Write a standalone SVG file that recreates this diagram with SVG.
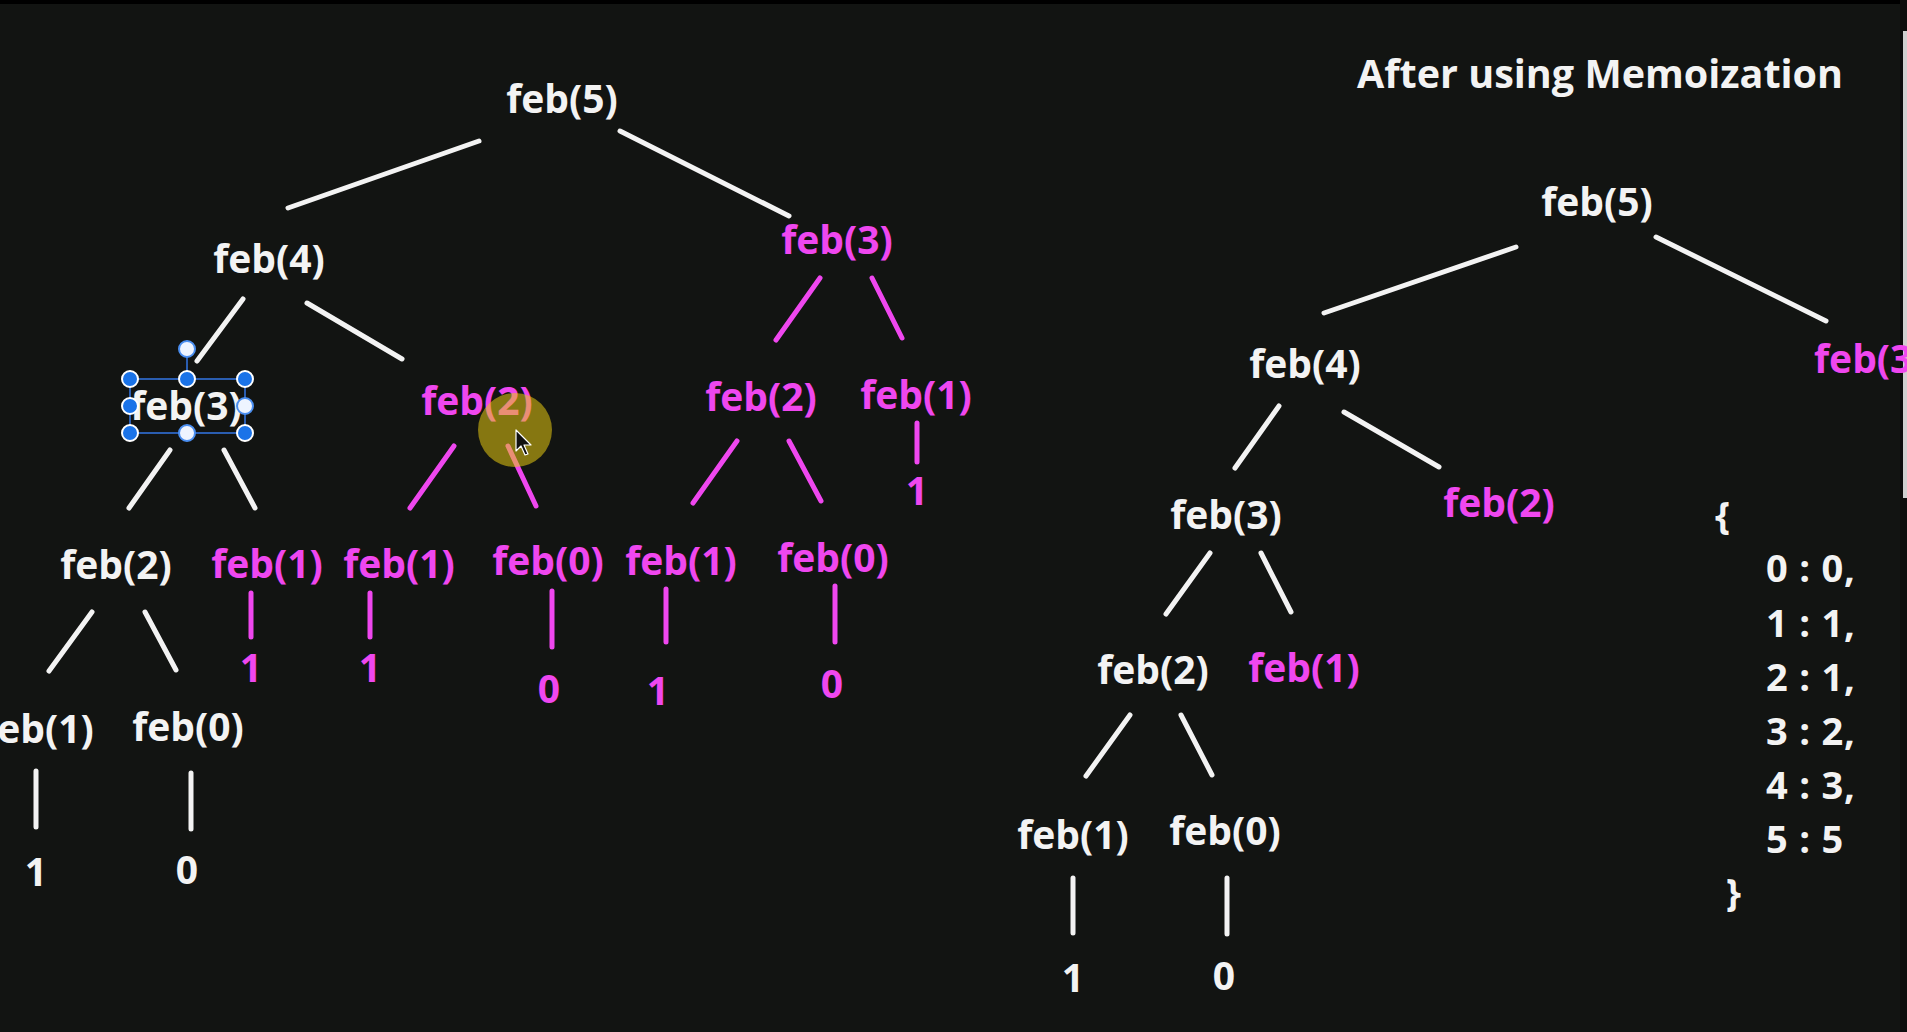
<svg xmlns="http://www.w3.org/2000/svg" width="1907" height="1032" viewBox="0 0 1907 1032">
<style>
text{font-family:"Open Sans","Liberation Sans",sans-serif;font-weight:bold;font-size:39px;text-anchor:middle}
.w{fill:#f3f3f3}
.m{fill:#ef47ef}
.title{font-size:39.5px}
.memo{font-size:38px;text-anchor:start;fill:#f3f3f3;letter-spacing:0.8px}
.cw line{stroke:#f3f3f3;stroke-width:5;stroke-linecap:round}
.cm line{stroke:#ef47ef;stroke-width:5;stroke-linecap:round}
.h{fill:#1a73e8;stroke:#ffffff;stroke-width:2}
.hw{fill:#eef4ff;stroke:#4a8ef0;stroke-width:2}
</style>
<rect x="0" y="0" width="1907" height="1032" fill="#121412"/>
<rect x="0" y="0" width="1907" height="4" fill="#000"/>
<rect x="1900" y="0" width="7" height="1032" fill="#0c0d0c"/>
<rect x="1903" y="31" width="4" height="467" fill="#cfcfcf"/>

<g id="connectors">
 <g class="cw">
  <line x1="479" y1="141" x2="288" y2="208"/>
  <line x1="620" y1="131" x2="789" y2="216"/>
  <line x1="243" y1="299" x2="197" y2="361"/>
  <line x1="307" y1="303" x2="402" y2="359"/>
  <line x1="170" y1="450" x2="129" y2="508"/>
  <line x1="224" y1="450" x2="255" y2="508"/>
  <line x1="92" y1="612" x2="49" y2="671"/>
  <line x1="145" y1="612" x2="176" y2="670"/>
  <line x1="36" y1="771" x2="36" y2="827"/>
  <line x1="191" y1="773" x2="191" y2="829"/>
  <line x1="1516" y1="247" x2="1324" y2="313"/>
  <line x1="1656" y1="237" x2="1826" y2="321"/>
  <line x1="1279" y1="406" x2="1235" y2="468"/>
  <line x1="1344" y1="412" x2="1439" y2="467"/>
  <line x1="1210" y1="553" x2="1166" y2="614"/>
  <line x1="1261" y1="553" x2="1291" y2="612"/>
  <line x1="1130" y1="715" x2="1086" y2="776"/>
  <line x1="1181" y1="715" x2="1212" y2="775"/>
  <line x1="1073" y1="878" x2="1073" y2="933"/>
  <line x1="1227" y1="878" x2="1227" y2="934"/>
 </g>
 <g class="cm">
  <line x1="820" y1="278" x2="776" y2="340"/>
  <line x1="872" y1="278" x2="902" y2="338"/>
  <line x1="454" y1="446" x2="410" y2="508"/>
  <line x1="508" y1="446" x2="536" y2="506"/>
  <line x1="737" y1="441" x2="693" y2="503"/>
  <line x1="789" y1="441" x2="821" y2="501"/>
  <line x1="917" y1="423" x2="917" y2="462"/>
  <line x1="251" y1="593" x2="251" y2="637"/>
  <line x1="370" y1="593" x2="370" y2="637"/>
  <line x1="552" y1="591" x2="552" y2="647"/>
  <line x1="666" y1="589" x2="666" y2="642"/>
  <line x1="835" y1="586" x2="835" y2="642"/>
 </g>
</g>

<g id="left-feb5"><text class="w" x="562" y="113">feb(5)</text></g>
<g id="left-feb4"><text class="w" x="269" y="273">feb(4)</text></g>
<g id="left-feb3-m"><text class="m" x="837" y="254">feb(3)</text></g>
<g id="left-feb3"><text class="w" x="186" y="420">feb(3)</text></g>
<g id="left-feb2-m"><text class="m" x="477" y="415">feb(2)</text></g>
<g id="left-feb2-m2"><text class="m" x="761" y="411">feb(2)</text></g>
<g id="left-feb1-m"><text class="m" x="916" y="409">feb(1)</text></g>
<g id="left-val1-a"><text class="m" x="917" y="505">1</text></g>
<g id="left-feb2"><text class="w" x="116" y="579">feb(2)</text></g>
<g id="left-feb1-m2"><text class="m" x="267" y="578">feb(1)</text></g>
<g id="left-feb1-m3"><text class="m" x="399" y="578">feb(1)</text></g>
<g id="left-feb0-m"><text class="m" x="548" y="575">feb(0)</text></g>
<g id="left-feb1-m4"><text class="m" x="681" y="575">feb(1)</text></g>
<g id="left-feb0-m2"><text class="m" x="833" y="572">feb(0)</text></g>
<g id="left-val1-b"><text class="m" x="251" y="682">1</text></g>
<g id="left-val1-c"><text class="m" x="370" y="682">1</text></g>
<g id="left-val0-a"><text class="m" x="549" y="703">0</text></g>
<g id="left-val1-d"><text class="m" x="658" y="705">1</text></g>
<g id="left-val0-b"><text class="m" x="832" y="698">0</text></g>
<g id="left-feb1"><text class="w" x="38" y="743">feb(1)</text></g>
<g id="left-feb0"><text class="w" x="188" y="741">feb(0)</text></g>
<g id="left-val1-e"><text class="w" x="36" y="886">1</text></g>
<g id="left-val0-c"><text class="w" x="187" y="884">0</text></g>

<g id="title"><text class="w title" x="1600" y="88">After using Memoization</text></g>
<g id="right-feb5"><text class="w" x="1597" y="216">feb(5)</text></g>
<g id="right-feb3-m"><text class="m" x="1814" y="373" style="text-anchor:start">feb(3)</text></g>
<g id="right-feb4"><text class="w" x="1305" y="378">feb(4)</text></g>
<g id="right-feb2-m"><text class="m" x="1499" y="517">feb(2)</text></g>
<g id="right-feb3"><text class="w" x="1226" y="529">feb(3)</text></g>
<g id="right-feb2"><text class="w" x="1153" y="684">feb(2)</text></g>
<g id="right-feb1-m"><text class="m" x="1304" y="682">feb(1)</text></g>
<g id="right-feb1"><text class="w" x="1073" y="849">feb(1)</text></g>
<g id="right-feb0"><text class="w" x="1225" y="845">feb(0)</text></g>
<g id="right-val1"><text class="w" x="1073" y="992">1</text></g>
<g id="right-val0"><text class="w" x="1224" y="990">0</text></g>

<g id="memo">
 <text class="memo" x="1715" y="529">{</text>
 <text class="memo" x="1766" y="582">0 : 0,</text>
 <text class="memo" x="1766" y="637">1 : 1,</text>
 <text class="memo" x="1766" y="691">2 : 1,</text>
 <text class="memo" x="1766" y="745">3 : 2,</text>
 <text class="memo" x="1766" y="799">4 : 3,</text>
 <text class="memo" x="1766" y="853">5 : 5</text>
 <text class="memo" x="1726" y="906">}</text>
</g>

<g id="selection">
 <rect x="130" y="379" width="115" height="54" fill="none" stroke="#2a5db0" stroke-width="2"/>
 <line x1="187" y1="349" x2="187" y2="379" stroke="#2a5db0" stroke-width="2"/>
 <circle class="hw" cx="187" cy="349" r="8"/>
 <circle class="h" cx="130" cy="379" r="8"/>
 <circle class="h" cx="187" cy="379" r="8"/>
 <circle class="h" cx="245" cy="379" r="8"/>
 <circle class="h" cx="130" cy="406" r="8"/>
 <circle class="hw" cx="245" cy="406" r="8"/>
 <circle class="h" cx="130" cy="433" r="8"/>
 <circle class="hw" cx="187" cy="433" r="8"/>
 <circle class="h" cx="245" cy="433" r="8"/>
</g>

<g id="pointer">
 <circle cx="515" cy="430" r="37" fill="#e6c810" fill-opacity="0.55"/>
 <polygon points="516,430 516,451 521,446 525,455 528,454 524,445 531,445" fill="#111" stroke="#fff" stroke-width="1.2" stroke-linejoin="round"/>
</g>
</svg>
